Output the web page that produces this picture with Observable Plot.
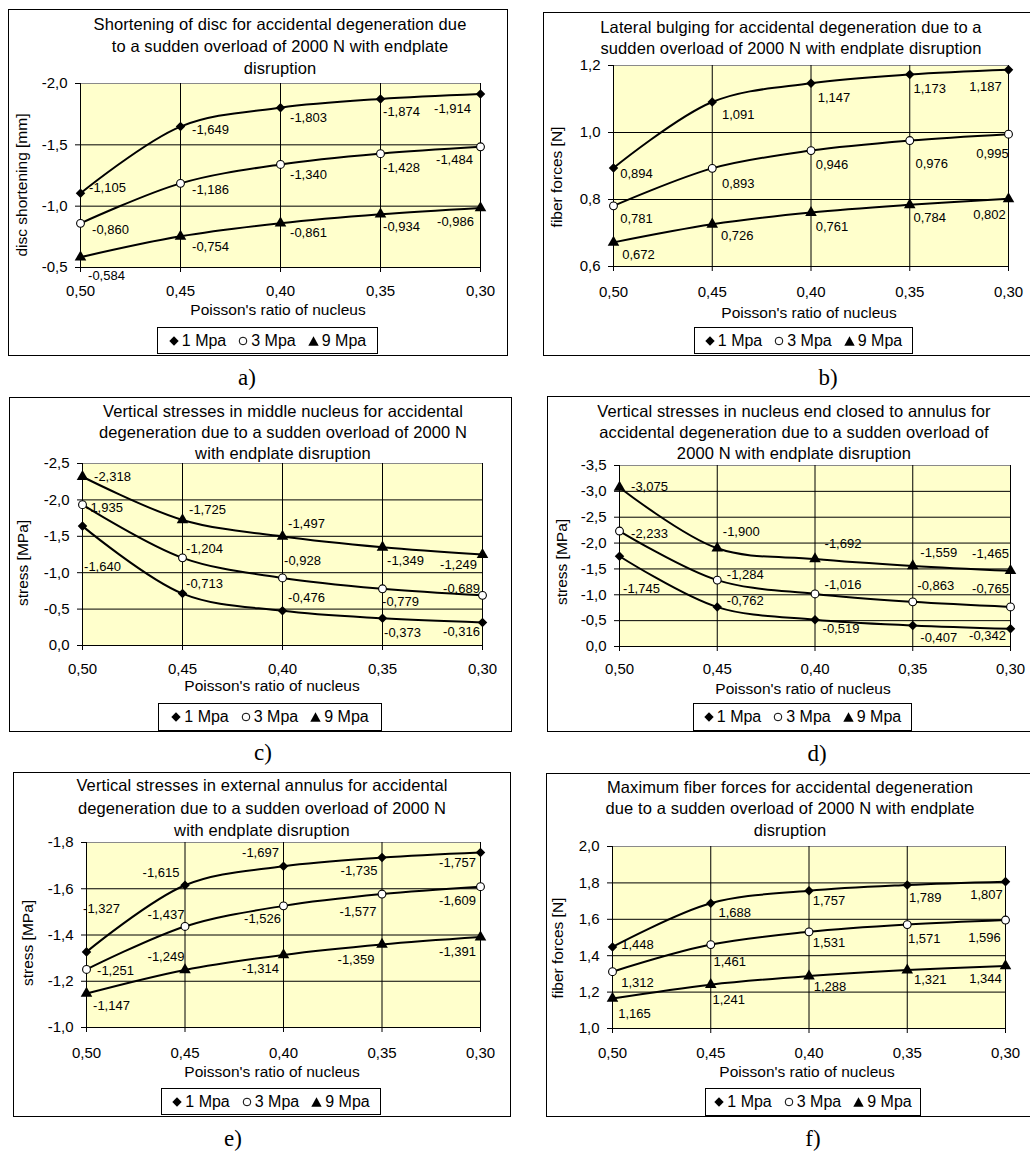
<!DOCTYPE html>
<html>
<head>
<meta charset="utf-8">
<script src="https://cdn.jsdelivr.net/npm/d3@7"></script>
<script src="https://cdn.jsdelivr.net/npm/@observablehq/plot@0.6"></script>
<style>
  html, body { margin: 0; padding: 0; background: #fff; }
  body { width: 1030px; height: 1152px; overflow: hidden; position: relative; font-family: Arial, "Liberation Sans", sans-serif; color: #000; }
  .abs { position: absolute; }
  .title { position: absolute; white-space: nowrap; font-size: 16.5px; line-height: 16px; letter-spacing: 0.1px; transform: translateX(-50%); }
  .ylab { position: absolute; white-space: nowrap; font-size: 15.5px; line-height: 16px; transform: translate(-50%, -50%) rotate(-90deg); }
  .xlab { position: absolute; white-space: nowrap; font-size: 15.5px; line-height: 16px; transform: translate(-50%, -50%); }
  .cap { position: absolute; white-space: nowrap; font-family: "Liberation Serif", "Times New Roman", serif; font-size: 23px; line-height: 23px; transform: translate(-50%, -50%); }
  .legend { position: absolute; box-sizing: border-box; border: 1px solid #000; background: #fff; display: flex; align-items: center; justify-content: center; font-size: 16px; white-space: nowrap; }
  .legend .item { display: flex; align-items: center; margin: 0 6px; }
  .legend svg { margin-right: 3px; }
</style>
</head>
<body>
<script>
// ---------------- DATA ----------------
const poisson = [0.50, 0.45, 0.40, 0.35, 0.30];
const seriesNames = ["1 Mpa", "3 Mpa", "9 Mpa"];

// a) Shortening of disc [mm]
const shortening1 = [-1.105, -1.649, -1.803, -1.874, -1.914];
const shortening3 = [-0.860, -1.186, -1.340, -1.428, -1.484];
const shortening9 = [-0.584, -0.754, -0.861, -0.934, -0.986];
const shorteningTicks = [-2.0, -1.5, -1.0, -0.5];

// b) Lateral bulging (fiber forces [N])
const bulging1 = [0.894, 1.091, 1.147, 1.173, 1.187];
const bulging3 = [0.781, 0.893, 0.946, 0.976, 0.995];
const bulging9 = [0.672, 0.726, 0.761, 0.784, 0.802];
const bulgingTicks = [1.2, 1.0, 0.8, 0.6];

// c) Vertical stresses in middle nucleus [MPa]
const middle1 = [-1.640, -0.713, -0.476, -0.373, -0.316];
const middle3 = [-1.935, -1.204, -0.928, -0.779, -0.689];
const middle9 = [-2.318, -1.725, -1.497, -1.349, -1.249];
const middleTicks = [-2.5, -2.0, -1.5, -1.0, -0.5, 0.0];

// d) Vertical stresses in nucleus end closed to annulus [MPa]
const nucEnd1 = [-1.745, -0.762, -0.519, -0.407, -0.342];
const nucEnd3 = [-2.233, -1.284, -1.016, -0.863, -0.765];
const nucEnd9 = [-3.075, -1.900, -1.692, -1.559, -1.465];
const nucEndTicks = [-3.5, -3.0, -2.5, -2.0, -1.5, -1.0, -0.5, 0.0];

// e) Vertical stresses in external annulus [MPa]
const annulus1 = [-1.327, -1.615, -1.697, -1.735, -1.757];
const annulus3 = [-1.251, -1.437, -1.526, -1.577, -1.609];
const annulus9 = [-1.147, -1.249, -1.314, -1.359, -1.391];
const annulusTicks = [-1.8, -1.6, -1.4, -1.2, -1.0];

// f) Maximum fiber forces [N]
const maxFiber1 = [1.448, 1.688, 1.757, 1.789, 1.807];
const maxFiber3 = [1.312, 1.461, 1.531, 1.571, 1.596];
const maxFiber9 = [1.165, 1.241, 1.288, 1.321, 1.344];
const maxFiberTicks = [2.0, 1.8, 1.6, 1.4, 1.2, 1.0];

const xAxisTitle = "Poisson's ratio of nucleus";

// ---------------- LAYOUT (label nudges, pixel boxes) ----------------
const panels = [
  { caption: "a)", series: [shortening1, shortening3, shortening9], ticks: shorteningTicks, yDomain: [-0.5, -2.0],
    title: ["Shortening of disc for accidental degeneration due", "to a sudden overload of 2000 N with endplate", "disruption"],
    ylabel: "disc shortening [mm]",
    box: [8, 9, 508, 356], plot: [80, 480, 83, 267],
    titleX: 280, titleY: [24, 46, 68], ylabXY: [22, 185], xTickY: 23, xlabXY: [278, 310],
    legend: [157, 327, 378, 354], capXY: [247, 377],
    nudge: [[[27,-5],[30,3],[28,10],[21,13],[-28,15]],
            [[30,6],[30,6],[28,10],[21,14],[-26,13]],
            [[26,19],[30,10],[28,10],[21,13],[-25,14]]] },
  { caption: "b)", series: [bulging1, bulging3, bulging9], ticks: bulgingTicks, yDomain: [0.6, 1.2],
    title: ["Lateral bulging for accidental degeneration due to a", "sudden overload of 2000 N with endplate disruption"],
    ylabel: "fiber forces [N]",
    box: [543, 12, 1034, 356], plot: [613, 1008, 65, 266],
    titleX: 791, titleY: [27, 48], ylabXY: [557, 177], xTickY: 25, xlabXY: [809, 313],
    legend: [694, 327, 913, 354], capXY: [828, 377],
    nudge: [[[23,6],[26,13],[23,15],[20,14],[-23,17]],
            [[23,13],[26,15],[21,14],[22,23],[-16,20]],
            [[25,12],[25,12],[21,14],[20,13],[-19,16]]] },
  { caption: "c)", series: [middle1, middle3, middle9], ticks: middleTicks, yDomain: [0.0, -2.5],
    title: ["Vertical stresses in middle nucleus for accidental", "degeneration due to a sudden overload of 2000 N", "with endplate disruption"],
    ylabel: "stress [MPa]",
    box: [9, 397, 512, 732], plot: [82, 482, 463, 645],
    titleX: 283, titleY: [411, 432, 453], ylabXY: [23, 563], xTickY: 23, xlabXY: [272, 686],
    legend: [158, 703, 382, 731], capXY: [263, 752],
    nudge: [[[20,41],[22,-10],[24,-13],[20,14],[-21,9]],
            [[22,3],[22,-9],[20,-17],[18,13],[-21,-7]],
            [[30,0],[25,-10],[24,-13],[23,14],[-24,10]]] },
  { caption: "d)", series: [nucEnd1, nucEnd3, nucEnd9], ticks: nucEndTicks, yDomain: [0.0, -3.5],
    title: ["Vertical stresses in nucleus end closed to annulus for", "accidental degeneration due to a sudden overload of", "2000 N with endplate disruption"],
    ylabel: "stress [MPa]",
    box: [547, 396, 1034, 732], plot: [619, 1010, 465, 646],
    titleX: 794, titleY: [411, 432, 453], ylabXY: [562, 562], xTickY: 22, xlabXY: [803, 689],
    legend: [693, 703, 912, 731], capXY: [817, 753],
    nudge: [[[22,33],[28,-6],[26,9],[26,12],[-23,7]],
            [[30,3],[28,-5],[28,-9],[23,-16],[-20,-18]],
            [[30,-1],[24,-16],[28,-15],[26,-13],[-20,-17]]] },
  { caption: "e)", series: [annulus1, annulus3, annulus9], ticks: annulusTicks, yDomain: [-1.0, -1.8],
    title: ["Vertical stresses in external annulus for accidental", "degeneration due to a sudden overload of 2000 N", "with endplate disruption"],
    ylabel: "stress [MPa]",
    box: [13, 772, 511, 1117], plot: [86, 480, 842, 1027],
    titleX: 262, titleY: [785, 808, 830], ylabXY: [28, 943], xTickY: 25, xlabXY: [272, 1072],
    legend: [161, 1088, 381, 1115], capXY: [233, 1138],
    nudge: [[[15,-43],[-24,-12],[-23,-13],[-23,13],[-23,10]],
            [[29,1],[-19,-12],[-21,13],[-24,18],[-23,14]],
            [[25,12],[-19,-13],[-23,14],[-26,15],[-23,15]]] },
  { caption: "f)", series: [maxFiber1, maxFiber3, maxFiber9], ticks: maxFiberTicks, yDomain: [1.0, 2.0],
    title: ["Maximum fiber forces for accidental degeneration", "due to a sudden overload of 2000 N with endplate", "disruption"],
    ylabel: "fiber forces [N]",
    box: [546, 773, 1034, 1117], plot: [612, 1005, 846, 1028],
    titleX: 790, titleY: [787, 808, 830], ylabXY: [558, 948], xTickY: 24, xlabXY: [807, 1072],
    legend: [705, 1088, 921, 1116], capXY: [813, 1138],
    nudge: [[[25,-2],[24,10],[20,10],[18,13],[-19,13]],
            [[25,11],[19,17],[20,11],[17,14],[-21,18]],
            [[22,15],[18,15],[21,11],[23,10],[-20,13]]] }
];

const symbols = ["diamond2", "circle", "triangle"];
const fills = ["black", "white", "black"];

const fmtTick1 = v => v.toFixed(1).replace(".", ",");
const fmtTick2 = v => v.toFixed(2).replace(".", ",");
const fmtVal = v => v.toFixed(3).replace(".", ",");

function div(cls, text, css) {
  const d = document.createElement("div");
  if (cls) d.className = cls;
  if (text != null) d.textContent = text;
  Object.assign(d.style, css || {});
  document.body.appendChild(d);
  return d;
}

const legendMarkers = [
  '<svg width="10" height="10" viewBox="0 0 10 10"><polygon points="5,0.3 9.7,5 5,9.7 0.3,5" fill="black"/></svg>',
  '<svg width="10" height="10" viewBox="0 0 10 10"><circle cx="5" cy="5" r="3.8" fill="white" stroke="black" stroke-width="1"/></svg>',
  '<svg width="11" height="10" viewBox="0 0 11 10"><polygon points="5.5,0.3 10.7,9.7 0.3,9.7" fill="black"/></svg>'
];

for (const p of panels) {
  const [bl, bt, br, bb] = p.box;
  const [px0, px1, pyT, pyB] = p.plot;
  const W = br - bl, H = bb - bt;

  // panel border
  div("abs", null, { left: bl + "px", top: bt + "px", width: W + "px", height: H + "px", border: "1px solid #000", boxSizing: "border-box" });

  const rows = p.series.flatMap((vals, si) => vals.map((v, i) => ({
    x: poisson[i], y: v, s: seriesNames[si], si, label: fmtVal(v),
    dx: p.nudge[si][i][0], dy: p.nudge[si][i][1]
  })));

  const interiorTicks = p.ticks.filter(t => t !== p.yDomain[0] && t !== p.yDomain[1]);

  const marks = [
    Plot.frame({ fill: "#FFFFCC", stroke: "#8a8a8a" }),
    Plot.gridY(interiorTicks, { stroke: "black", strokeOpacity: 1, strokeWidth: 1 }),
    Plot.gridX([0.45, 0.40, 0.35, 0.30], { stroke: "black", strokeOpacity: 1, strokeWidth: 1 }),
    Plot.ruleX([0.5], { stroke: "black", strokeWidth: 1 }),
    Plot.ruleY([p.yDomain[0]], { stroke: "black", strokeWidth: 1 }),
    Plot.axisY(p.ticks, { tickFormat: fmtTick1, tickSize: 5, tickPadding: 8, fontSize: 15, label: null }),
    Plot.axisX(poisson, { tickFormat: fmtTick2, tickSize: 5, tickPadding: p.xTickY - 5 - 5.3, fontSize: 15, label: null }),
    Plot.line(rows, { x: "x", y: "y", z: "s", stroke: "black", strokeWidth: 2, curve: "catmull-rom" })
  ];
  for (let si = 0; si < 3; si++) {
    const sr = rows.filter(r => r.si === si);
    marks.push(Plot.dot(sr, { x: "x", y: "y", symbol: symbols[si], r: si === 1 ? 3.9 : 4.3,
      fill: fills[si], stroke: "black", strokeWidth: si === 1 ? 1.1 : 0 }));
  }
  for (const r of rows) {
    marks.push(Plot.text([r], { x: "x", y: "y", text: "label", dx: r.dx, dy: r.dy,
      fontSize: 13, textAnchor: "middle", fill: "black" }));
  }

  const svg = Plot.plot({
    width: W, height: H,
    marginLeft: px0 - bl, marginRight: br - px1, marginTop: pyT - bt, marginBottom: bb - pyB,
    x: { domain: [0.5, 0.3], label: null },
    y: { domain: p.yDomain, label: null },
    style: { background: "transparent", fontFamily: "Arial, 'Liberation Sans', sans-serif", fontSize: "15px", overflow: "visible", color: "black" },
    marks
  });
  svg.style.position = "absolute";
  svg.style.left = bl + "px";
  svg.style.top = bt + "px";
  document.body.appendChild(svg);

  // title
  p.title.forEach((line, k) => {
    div("title", line, { left: p.titleX + "px", top: (p.titleY[k] - 8) + "px" });
  });
  // y axis title
  div("ylab", p.ylabel, { left: p.ylabXY[0] + "px", top: p.ylabXY[1] + "px" });
  // x axis title
  div("xlab", xAxisTitle, { left: p.xlabXY[0] + "px", top: p.xlabXY[1] + "px" });
  // legend
  const [ll, lt, lr, lb] = p.legend;
  const lg = div("legend", null, { left: ll + "px", top: lt + "px", width: (lr - ll) + "px", height: (lb - lt) + "px" });
  seriesNames.forEach((name, si) => {
    const it = document.createElement("div");
    it.className = "item";
    it.innerHTML = legendMarkers[si] + "<span>" + name + "</span>";
    lg.appendChild(it);
  });
  // caption
  div("cap", p.caption, { left: p.capXY[0] + "px", top: p.capXY[1] + "px" });
}
</script>
</body>
</html>
